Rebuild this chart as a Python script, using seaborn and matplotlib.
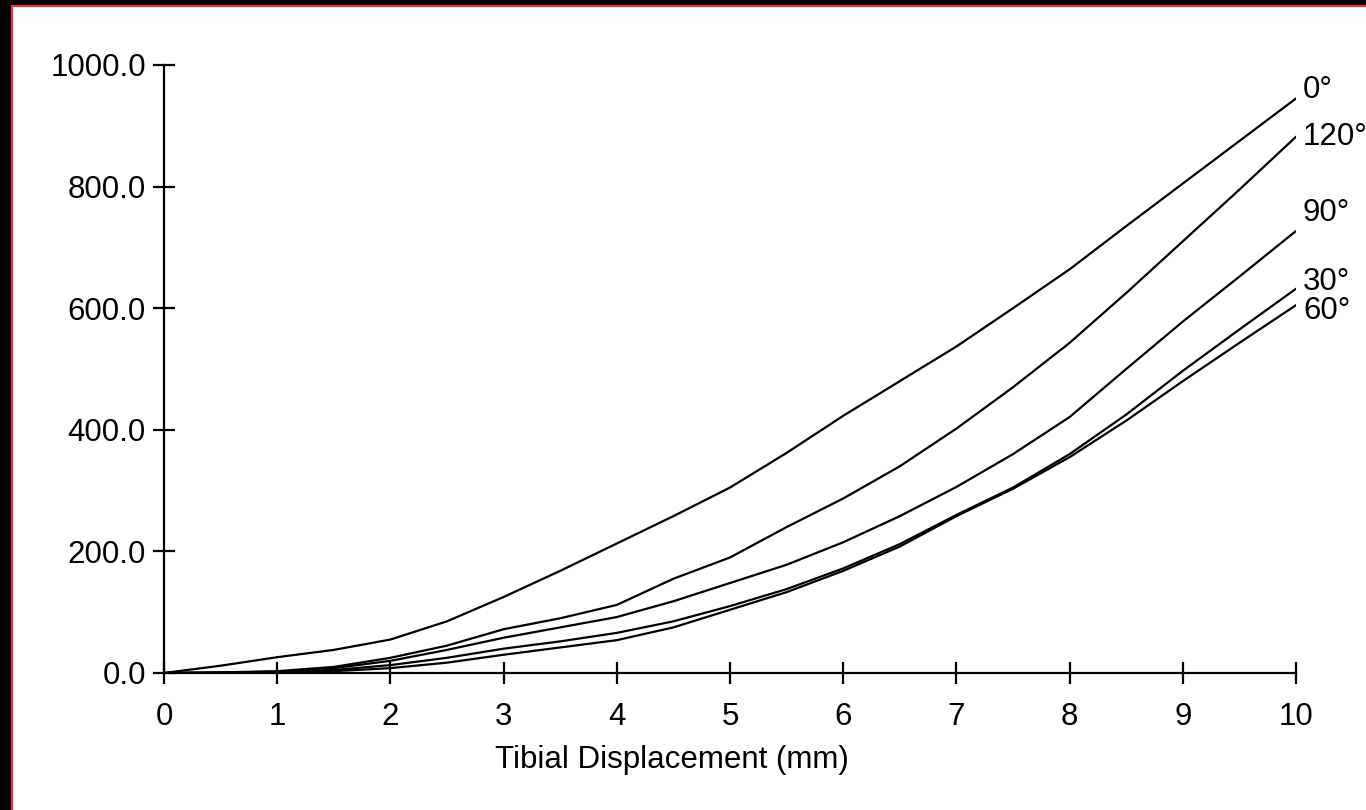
import numpy as np
import pandas as pd
import matplotlib
matplotlib.use("Agg")
import matplotlib.pyplot as plt
from matplotlib.patches import Rectangle
import seaborn as sns

# ---- data ----
displacement = [0, 0.5, 1, 1.5, 2, 2.5, 3, 3.5, 4, 4.5, 5, 5.5, 6, 6.5, 7, 7.5, 8, 8.5, 9, 9.5, 10]
force_0 = [0, 12, 26, 38, 55, 85, 125, 168, 213, 258, 305, 362, 423, 480, 537, 600, 664, 735, 805, 875, 945]
force_120 = [0, 1, 3, 10, 25, 45, 72, 90, 112, 155, 190, 240, 287, 340, 402, 470, 543, 625, 710, 795, 882]
force_90 = [0, 1, 2, 8, 20, 38, 58, 75, 92, 118, 148, 178, 215, 258, 306, 360, 421, 500, 578, 652, 727]
force_30 = [0, 0, 2, 5, 13, 25, 40, 52, 66, 85, 110, 138, 172, 212, 260, 305, 360, 425, 497, 565, 632]
force_60 = [0, 0, 1, 3, 8, 17, 30, 42, 54, 75, 104, 133, 168, 208, 258, 303, 355, 415, 480, 543, 605]
angle_labels = ["0°", "120°", "90°", "30°", "60°"]
x_ticks = [0, 1, 2, 3, 4, 5, 6, 7, 8, 9, 10]
y_ticks = [0, 200, 400, 600, 800, 1000]
y_ticklabels = ["0.0", "200.0", "400.0", "600.0", "800.0", "1000.0"]
x_label = "Tibial Displacement (mm)"

series = [force_0, force_120, force_90, force_30, force_60]
frames = []
for lab, vals in zip(angle_labels, series):
    frames.append(pd.DataFrame({"x": displacement, "y": vals, "angle": lab}))
df = pd.concat(frames, ignore_index=True)

sns.set_style("ticks")
plt.rcParams["font.family"] = ["Liberation Sans", "DejaVu Sans"]

fig = plt.figure(figsize=(13.66, 8.10), dpi=100)
fig.patch.set_facecolor("black")
W, H = 1366, 810
bg = Rectangle((11.5 / W, -0.01), 1.02, 1 - 5.5 / H + 0.01, transform=fig.transFigure,
               facecolor="white", edgecolor="#f0303c", linewidth=1.6, zorder=-5)
fig.patches.append(bg)

ax = fig.add_axes([164 / W, 1 - 673 / H, (1296 - 164) / W, (673 - 65) / H])
ax.set_zorder(5)
ax.set_facecolor("none")
ax.patch.set_alpha(0)

sns.lineplot(data=df, x="x", y="y", hue="angle", palette=["black"] * 5,
             legend=False, ax=ax, linewidth=1.6, estimator=None, sort=False)

ax.set_xlim(0, 10)
ax.set_ylim(0, 1000)
ax.set_xticks(x_ticks)
ax.set_xticklabels([str(t) for t in x_ticks])
ax.set_yticks(y_ticks)
ax.set_yticklabels(y_ticklabels)

for s in ["top", "right"]:
    ax.spines[s].set_visible(False)
for s in ["left", "bottom"]:
    ax.spines[s].set_linewidth(1.6)
    ax.spines[s].set_color("black")

FS = 22.5
ax.tick_params(axis="both", direction="inout", length=16, width=1.6, color="black",
               labelsize=FS, labelcolor="black")
ax.tick_params(axis="x", pad=13)
ax.tick_params(axis="y", pad=5)

ax.set_xlabel(x_label, fontsize=FS, color="black")
ax.xaxis.set_label_coords(0.449, -0.118)
ax.set_ylabel("")

# curve labels at the right end
offsets = [8, 0, 18, 7, -6]
for lab, vals, off in zip(angle_labels, series, offsets):
    ax.annotate(lab, xy=(displacement[-1], vals[-1]), xytext=(5, off * 0.72),
                textcoords="offset points", ha="left", va="center",
                fontsize=FS, color="black", annotation_clip=False)

fig.savefig("out.png", dpi=100, facecolor=fig.get_facecolor())
